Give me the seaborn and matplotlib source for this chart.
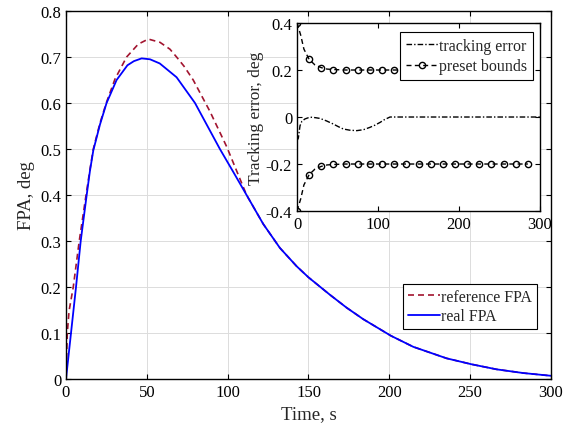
import matplotlib
matplotlib.use('Agg')
import matplotlib.pyplot as plt
import seaborn as sns

# main plot: flight path angle (deg) vs time (s)
t_real = [0, 3.1, 6.2, 9.1, 12.8, 14.8, 16.9, 21, 25.1, 31.3, 38, 42, 46.8, 52, 58, 68.4,
          79.8, 87.5, 95.2, 103.5, 111.7, 122, 132.3, 142.7, 150, 163.3, 173.6, 183.9,
          201, 214.8, 235.4, 250.9, 266.4, 282.8, 300]
fpa_real = [0, 0.1, 0.2, 0.3, 0.4, 0.452, 0.497, 0.553, 0.6, 0.65, 0.682, 0.691, 0.697,
            0.695, 0.686, 0.656, 0.6, 0.55, 0.5, 0.45, 0.4, 0.337, 0.285, 0.245, 0.221,
            0.183, 0.155, 0.13, 0.094, 0.07, 0.045, 0.032, 0.021, 0.013, 0.007]

t_ref = [0, 0.8, 1.9, 4.5, 8.2, 12.4, 14.8, 16.9, 21, 25.1, 30.3, 37.5, 44.7, 50.9, 58.1,
         64.3, 68.4, 73, 78.7, 89, 99.4, 107.6, 111.7, 122, 132.3, 142.7, 150, 163.3,
         173.6, 183.9, 201, 214.8, 235.4, 250.9, 266.4, 282.8, 300]
fpa_ref = [0, 0.1, 0.148, 0.2, 0.3, 0.4, 0.455, 0.5, 0.556, 0.602, 0.652, 0.7, 0.728,
           0.739, 0.732, 0.717, 0.7, 0.68, 0.65, 0.582, 0.505, 0.435, 0.4, 0.337, 0.285,
           0.245, 0.221, 0.183, 0.155, 0.13, 0.094, 0.07, 0.045, 0.032, 0.021, 0.013, 0.007]

# inset: tracking error and preset bounds
t_err = [0, 1.6, 3.7, 6, 9.9, 14, 18, 23, 28.4, 36, 44.9, 51, 57.2, 65, 73.7, 82, 90, 96,
         102.5, 108, 114.8, 300]
err = [-0.1, -0.09, -0.037, -0.018, -0.008, -0.003, -0.001, -0.003, -0.006, -0.016, -0.03,
       -0.041, -0.051, -0.056, -0.058, -0.054, -0.044, -0.035, -0.023, -0.011, 0, 0]

t_bnd = [0, 4.5, 8.5, 15, 22, 30, 37, 45, 60, 75, 90, 105, 120, 135, 150, 165, 180, 195,
         210, 225, 240, 255, 270, 285]
bnd_up = [0.4, 0.349, 0.289, 0.245, 0.222, 0.21, 0.204, 0.202, 0.2, 0.2, 0.2, 0.2, 0.2,
          0.2, 0.2, 0.2, 0.2, 0.2, 0.2, 0.2, 0.2, 0.2, 0.2, 0.2]
bnd_lo = [-0.4, -0.349, -0.289, -0.245, -0.222, -0.21, -0.204, -0.202, -0.2, -0.2, -0.2,
          -0.2, -0.2, -0.2, -0.2, -0.2, -0.2, -0.2, -0.2, -0.2, -0.2, -0.2, -0.2, -0.2]

main_xticks = [0, 50, 100, 150, 200, 250, 300]
main_yticks = [0, 0.1, 0.2, 0.3, 0.4, 0.5, 0.6, 0.7, 0.8]
main_ylabels = ['0', '0.1', '0.2', '0.3', '0.4', '0.5', '0.6', '0.7', '0.8']
ins_xticks = [0, 100, 200, 300]
ins_yticks = [-0.4, -0.2, 0, 0.2, 0.4]
ins_ylabels = ['-0.4', '-0.2', '0', '0.2', '0.4']

sns.set_theme(style="ticks")
plt.rcParams['font.family'] = ['Liberation Serif', 'DejaVu Serif']
plt.rcParams['xtick.direction'] = 'in'
plt.rcParams['ytick.direction'] = 'in'
plt.rcParams['xtick.top'] = True
plt.rcParams['ytick.right'] = True
plt.rcParams['xtick.major.size'] = 3.5
plt.rcParams['ytick.major.size'] = 3.5
plt.rcParams['axes.edgecolor'] = 'black'
plt.rcParams['axes.linewidth'] = 1.0
plt.rcParams['xtick.color'] = 'black'
plt.rcParams['ytick.color'] = 'black'

fig = plt.figure(figsize=(5.65, 4.35), dpi=100)
ax = fig.add_axes([0.1168, 0.1264, 0.8584, 0.846])

sns.lineplot(x=t_ref, y=fpa_ref, ax=ax, color='#A2142F', lw=1.2, label='reference FPA',
             linestyle=(0, (3.6, 2.4)))
sns.lineplot(x=t_real, y=fpa_real, ax=ax, color='blue', lw=1.3, label='real FPA')

ax.set_xlim(0, 300)
ax.set_ylim(0, 0.8)
ax.set_xticks(main_xticks)
ax.set_yticks(main_yticks)
ax.set_yticklabels(main_ylabels)
ax.tick_params(labelsize=12, width=0.8)
ax.grid(True, color='#dcdcdc', lw=0.7)
ax.set_xlabel('Time, s', fontsize=13.5)
ax.set_ylabel('FPA, deg', fontsize=13.5)
ax.legend(loc='lower right', bbox_to_anchor=(0.971, 0.136), borderaxespad=0,
          fontsize=11.5, frameon=True, fancybox=False, edgecolor='black',
          framealpha=1, handlelength=2.0, handletextpad=0.1, borderpad=0.3,
          labelspacing=0.2).get_frame().set_linewidth(0.8)

# inset
axi = fig.add_axes([0.5257, 0.5126, 0.4301, 0.4322])
axi.set_facecolor('white')
sns.lineplot(x=t_err, y=err, ax=axi, color='black', lw=1.0, label='tracking error',
             linestyle=(0, (4, 1.5, 1, 1.5)))
marks = [i for i, t in enumerate(t_bnd) if t % 15 == 0]
sns.lineplot(x=t_bnd, y=bnd_up, ax=axi, color='black', lw=1.0, label='preset bounds',
             linestyle=(0, (3.6, 2.4)), marker='o', markersize=4.5, mfc='none',
             mec='black', mew=1.0, markevery=marks)
sns.lineplot(x=t_bnd, y=bnd_lo, ax=axi, color='black', lw=1.0,
             linestyle=(0, (3.6, 2.4)), marker='o', markersize=4.5, mfc='none',
             mec='black', mew=1.0, markevery=marks)
axi.set_xlim(0, 300)
axi.set_ylim(-0.4, 0.4)
axi.set_xticks(ins_xticks)
axi.set_yticks(ins_yticks)
axi.set_yticklabels(ins_ylabels)
axi.tick_params(labelsize=12, width=0.8)
axi.set_ylabel('Tracking error, deg', fontsize=12.5, labelpad=1)
axi.grid(False)
axi.legend(loc='upper right', bbox_to_anchor=(0.971, 0.952), borderaxespad=0,
           fontsize=11.5, frameon=True, fancybox=False, edgecolor='black',
           framealpha=1, handlelength=2.0, handletextpad=0.1, borderpad=0.35,
           labelspacing=0.3).get_frame().set_linewidth(0.8)

fig.savefig('out.png', dpi=100)
